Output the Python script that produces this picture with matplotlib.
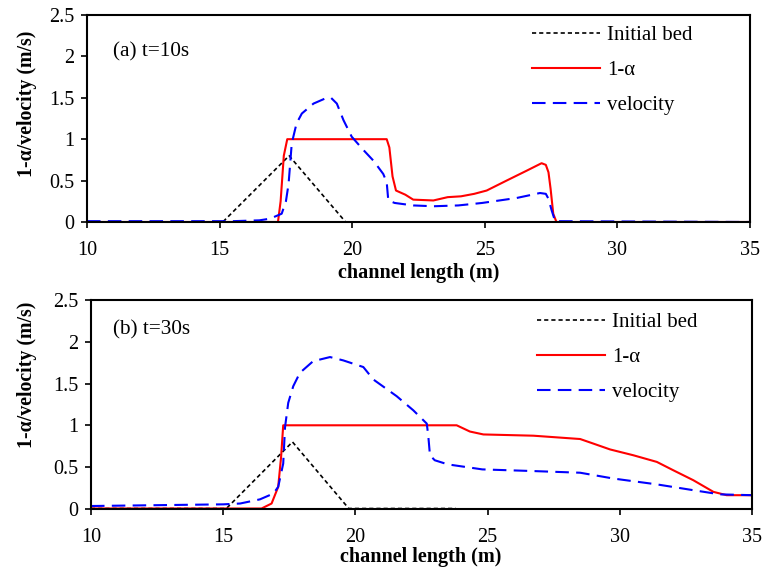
import matplotlib
matplotlib.use("Agg")
import matplotlib.pyplot as plt

plt.rcParams['font.family'] = ['Liberation Serif', 'DejaVu Serif']

# ---- Data: (a) t=10s ----
bed_x = [10, 15.12, 17.62, 19.75, 23.8]
bed_y = [0, 0, 0.80, 0, 0]

a_red_x = [10, 17.2, 17.3, 17.42, 17.55, 21.3, 21.4, 21.52, 21.65, 22.0, 22.3, 23.06, 23.6, 24.1, 24.6,
           25.07, 25.82, 26.58, 27.14, 27.3, 27.4, 27.48, 27.58, 27.7, 35]
a_red_y = [0, 0, 0.25, 0.8, 1.0, 1.0, 0.9, 0.55, 0.38, 0.33, 0.27, 0.26, 0.30, 0.31, 0.34,
           0.38, 0.50, 0.62, 0.71, 0.69, 0.60, 0.40, 0.10, 0.0, 0]

a_vel_x = [10, 15.5, 16.5, 16.9, 17.34, 17.5, 17.6, 17.72, 17.9, 18.1, 18.54, 19.04, 19.2, 19.42, 19.67,
           19.98, 20.42, 20.8, 21.17, 21.3, 21.36, 21.6, 22.3, 23.06, 24.0, 24.9, 26.2, 27.08, 27.3,
           27.4, 27.52, 27.65, 35]
a_vel_y = [0.01, 0.01, 0.02, 0.04, 0.10, 0.25, 0.46, 0.95, 1.19, 1.31, 1.43, 1.50, 1.50, 1.43, 1.23,
           1.03, 0.87, 0.74, 0.58, 0.48, 0.26, 0.23, 0.20, 0.19, 0.20, 0.23, 0.29, 0.35, 0.34,
           0.28, 0.14, 0.01, 0.0]

# ---- Data: (b) t=30s ----
b_red_x = [10, 16.45, 16.83, 17.08, 17.19, 17.27, 23.83, 24.33, 24.84, 26.73, 28.5, 29.0, 29.63,
           30.51, 31.4, 32.02, 32.78, 33.54, 34.04, 35]
b_red_y = [0, 0, 0.06, 0.26, 0.62, 1.0, 1.0, 0.925, 0.89, 0.875, 0.835, 0.78, 0.71,
           0.64, 0.56, 0.46, 0.34, 0.20, 0.16, 0.16]

b_vel_x = [10, 15.0, 15.64, 16.39, 16.9, 17.08, 17.27, 17.34, 17.46, 17.65, 17.9, 18.4, 19.04, 19.54,
           20.3, 20.68, 21.56, 22.19, 22.7, 22.76, 22.82, 23.0, 23.5, 24.8, 26.73, 28.5, 29.76,
           31.4, 32.78, 33.79, 35]
b_vel_y = [0.03, 0.05, 0.06, 0.11, 0.18, 0.26, 0.54, 0.98, 1.27, 1.47, 1.63, 1.77, 1.82, 1.78,
           1.70, 1.55, 1.35, 1.18, 1.02, 0.86, 0.64, 0.58, 0.53, 0.47, 0.45, 0.43, 0.36,
           0.29, 0.22, 0.17, 0.16]

x_ticks = [10, 15, 20, 25, 30, 35]
y_ticks = [0, 0.5, 1, 1.5, 2, 2.5]
y_ticklabels = ['0', '0.5', '1', '1.5', '2', '2.5']

fig = plt.figure(figsize=(7.62, 5.72), dpi=100)

def draw(ax, red_x, red_y, vel_x, vel_y, label, lab_pos, leg_pos, xl_pos, yl_pos):
    ax.plot(bed_x, bed_y, color='black', lw=1.2, linestyle=(0, (2.5, 1.8)), label='Initial bed')
    ax.plot(red_x, red_y, color='red', lw=1.5, label='1-α')
    ax.plot(vel_x, vel_y, color='blue', lw=1.5, linestyle=(0, (6.5, 3.5)), label='velocity')
    ax.set_xlim(10, 35)
    ax.set_ylim(0, 2.5)
    ax.set_xticks(x_ticks)
    ax.set_yticks(y_ticks)
    ax.set_yticklabels(y_ticklabels)
    ax.tick_params(direction='out', length=4.5, width=1.2, labelsize=14.5)
    ax.tick_params(axis='x', pad=9.5)
    ax.tick_params(axis='y', pad=4.5)
    for s in ax.spines.values():
        s.set_linewidth(1.5)
    ax.set_xlabel('channel length (m)', fontsize=14.5, fontweight='bold')
    ax.xaxis.set_label_coords(*xl_pos)
    ax.xaxis.label.set_verticalalignment('center')
    ax.set_ylabel('1-α/velocity (m/s)', fontsize=14.3, fontweight='bold')
    ax.yaxis.set_label_coords(*yl_pos)
    ax.text(lab_pos[0], lab_pos[1], label, transform=ax.transAxes, fontsize=15.3, va='center')
    ax.legend(loc='upper left', bbox_to_anchor=leg_pos, frameon=False, fontsize=15,
              handlelength=3.27, handletextpad=0.34, labelspacing=0.74,
              borderpad=0, borderaxespad=0)

ax1 = fig.add_axes([0.1142, 0.6119, 0.8701, 0.3619])
draw(ax1, a_red_x, a_red_y, a_vel_x, a_vel_y, '(a) t=10s',
     (0.039, 0.82), (0.671, 0.948), (0.5, -0.245), (-0.075, 0.572))
ax2 = fig.add_axes([0.1194, 0.1110, 0.8675, 0.3637])
draw(ax2, b_red_x, b_red_y, b_vel_x, b_vel_y, '(b) t=30s',
     (0.033, 0.861), (0.674, 0.941), (0.499, -0.235), (-0.082, 0.644))

fig.savefig('out.png', dpi=100)
